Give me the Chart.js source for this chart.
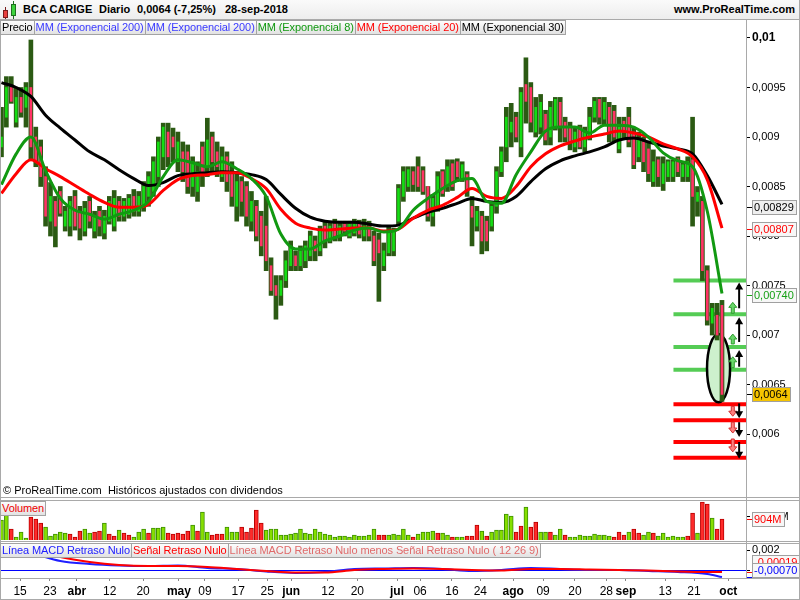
<!DOCTYPE html>
<html>
<head>
<meta charset="utf-8">
<title>BCA CARIGE Diario</title>
<script src="https://cdn.jsdelivr.net/npm/chart.js@4.4.1/dist/chart.umd.min.js"></script>
<style>
  body { margin: 0; background: #fff; }
  #page { position: relative; width: 800px; height: 600px; overflow: hidden; background: #fff;
          font-family: "Liberation Sans", Arial, sans-serif; color: #000; }
  canvas { position: absolute; left: 0; }
  .ln { position: absolute; background: #a9a9a9; }
  .hdr { position: absolute; left: 0; top: 0; width: 800px; height: 19px; background: linear-gradient(#fafafa, #ededed); }
  .ttl { position: absolute; top: 3px; font-size: 11px; font-weight: bold; white-space: nowrap; }
  .tags { position: absolute; left: 0; display: flex; }
  .tag { height: 13px; line-height: 13px; font-size: 11px; padding: 0 1px; border: 1px solid #a3a3a3;
         margin-right: -1px; background: linear-gradient(#fdfdfd, #e2e2e2); white-space: nowrap; letter-spacing: -0.1px; }
  .note { position: absolute; left: 3px; top: 484px; font-size: 11px; white-space: nowrap; }
  .ic { position: absolute; }
</style>
</head>
<body>
<div id="page">
  <div class="hdr"></div>
  <div class="ic" style="left:5px;top:7px;width:1px;height:13px;background:#7a1d1d"></div>
  <div class="ic" style="left:3px;top:10px;width:3px;height:6px;background:#e8403f;border:1px solid #7a1d1d"></div>
  <div class="ic" style="left:13px;top:1px;width:1px;height:18px;background:#1e6e1e"></div>
  <div class="ic" style="left:11px;top:4px;width:3px;height:10px;background:#3cd23c;border:1px solid #1e6e1e"></div>
  <div class="ttl" style="left:23px">BCA CARIGE</div>
  <div class="ttl" style="left:99px">Diario</div>
  <div class="ttl" style="left:137px">0,0064 (-7,25%)</div>
  <div class="ttl" style="left:225px">28-sep-2018</div>
  <div class="ttl" style="right:5px">www.ProRealTime.com</div>

  <canvas id="mainChart" width="800" height="477" style="top:20px"></canvas>
  <canvas id="volChart" width="800" height="41" style="top:500px"></canvas>
  <canvas id="macdChart" width="800" height="56" style="top:543px"></canvas>

  <div class="ln" style="left:0;top:19px;width:800px;height:1px"></div>
  <div class="ln" style="left:0;top:497px;width:800px;height:1px"></div>
  <div class="ln" style="left:0;top:500px;width:800px;height:1px"></div>
  <div class="ln" style="left:0;top:541px;width:800px;height:1px"></div>
  <div class="ln" style="left:0;top:543px;width:800px;height:1px"></div>
  <div class="ln" style="left:0;top:578px;width:800px;height:1px"></div>
  <div class="ln" style="left:0;top:599px;width:800px;height:1px"></div>
  <div class="ln" style="left:0;top:19px;width:1px;height:581px"></div>
  <div class="ln" style="left:746px;top:19px;width:1px;height:560px"></div>
  <div class="ln" style="left:799px;top:0;width:1px;height:600px"></div>

  <div class="tags" style="top:20px">
    <div class="tag">Precio</div>
    <div class="tag" style="color:#3b3bff">MM (Exponencial 200)</div>
    <div class="tag" style="color:#3b3bff">MM (Exponencial 200)</div>
    <div class="tag" style="color:#119911">MM (Exponencial 8)</div>
    <div class="tag" style="color:#ff0000">MM (Exponencial 20)</div>
    <div class="tag">MM (Exponencial 30)</div>
  </div>
  <div class="note">&copy; ProRealTime.com&nbsp; Históricos ajustados con dividendos</div>
  <div class="tags" style="top:501px">
    <div class="tag" style="color:#ee0000">Volumen</div>
  </div>
  <div class="tags" style="top:543px">
    <div class="tag" style="color:#2020ff">Línea MACD Retraso Nulo</div>
    <div class="tag" style="color:#ff0000">Señal Retraso Nulo</div>
    <div class="tag" style="color:#e06a6a">Línea MACD Retraso Nulo menos Señal Retraso Nulo ( 12 26 9)</div>
  </div>
</div>

<script>
// === DATA ===
// prices in units of 0.0001 (so 64.0 = 0,0064)
const openP = [
  89.0, 92.0, 95.0, 91.5, 94.0, 93.0, 95.0, 90.0, 89.0, 86.0,
  81.5, 83.5, 84.5, 81.0, 81.0, 84.0, 82.5, 80.5, 83.5, 80.5,
  82.5, 80.3, 81.5, 81.0, 83.5, 82.0, 82.2, 84.0, 82.5, 83.0,
  84.0, 84.5, 86.0, 88.0, 90.5, 90.0, 87.5, 88.5, 88.5, 85.0,
  84.5, 89.0, 87.0, 90.0, 88.5, 86.0, 88.0, 86.5, 83.0, 85.5,
  85.0, 81.5, 83.0, 82.0, 81.0, 77.0, 75.0, 74.0, 75.5, 77.0,
  78.0, 77.0, 77.5, 78.0, 79.5, 78.5, 81.0, 79.5, 81.2, 80.0,
  81.2, 80.0, 80.3, 81.3, 80.0, 81.0, 80.0, 79.6, 77.0, 78.3,
  78.5, 81.5, 84.0, 85.0, 86.5, 87.0, 86.6, 85.0, 82.0, 83.0,
  86.5, 85.0, 87.3, 87.5, 85.8, 86.2, 83.0, 81.0, 82.0, 81.5,
  81.0, 83.0, 86.5, 89.0, 90.5, 92.0, 89.0, 95.3, 95.0, 90.5,
  91.0, 92.3, 90.0, 91.0, 93.5, 91.5, 91.0, 89.0, 91.0, 89.0,
  90.0, 92.0, 93.8, 91.8, 93.0, 92.6, 88.8, 91.6, 92.0, 90.5,
  88.0, 89.5, 88.8, 85.5, 87.7, 85.3, 86.0, 86.0, 87.8, 86.0,
  86.0, 87.7, 83.5, 83.5, 76.5, 71.2, 72.0, 73.0
];
const highP = [
  93.0, 96.1, 96.1, 95.0, 95.0, 95.5, 99.8, 91.0, 89.7, 87.0,
  85.4, 84.0, 85.0, 83.0, 84.0, 84.6, 83.0, 83.5, 84.0, 82.5,
  83.0, 82.6, 84.0, 84.6, 84.0, 83.8, 84.2, 84.7, 84.5, 85.5,
  86.5, 88.0, 90.0, 91.4, 91.4, 90.9, 90.5, 89.5, 89.2, 88.0,
  87.5, 89.5, 91.9, 90.5, 89.5, 89.0, 88.5, 87.5, 86.5, 86.0,
  85.5, 84.5, 83.6, 82.5, 84.0, 77.8, 76.0, 76.0, 78.5, 79.5,
  78.5, 79.0, 79.5, 80.5, 80.0, 81.0, 81.5, 81.5, 81.7, 81.5,
  81.5, 81.5, 81.7, 81.6, 81.7, 81.5, 80.5, 80.3, 79.3, 81.0,
  80.8, 85.2, 87.0, 87.0, 87.0, 88.0, 87.0, 85.0, 84.2, 86.5,
  86.7, 87.7, 87.7, 87.8, 87.5, 86.5, 84.0, 83.0, 82.5, 82.0,
  83.5, 87.0, 89.0, 93.0, 93.4, 92.5, 95.0, 98.0, 95.5, 94.0,
  94.3, 92.7, 93.6, 94.0, 94.0, 92.0, 91.5, 91.0, 91.2, 91.0,
  93.0, 94.0, 94.0, 94.0, 93.5, 93.2, 92.0, 92.0, 93.0, 91.0,
  90.5, 90.0, 89.5, 88.7, 88.0, 88.0, 87.7, 87.7, 88.0, 87.5,
  88.0, 92.0, 85.0, 84.0, 77.0, 73.2, 73.2, 73.5
];
const lowP = [
  88.0, 91.0, 93.4, 91.0, 92.0, 91.0, 87.7, 87.0, 85.0, 81.0,
  80.0, 78.9, 82.0, 80.5, 80.0, 80.6, 79.6, 80.0, 80.8, 79.8,
  80.0, 79.7, 81.2, 80.5, 81.5, 81.5, 81.8, 82.0, 82.0, 82.5,
  83.0, 84.0, 85.0, 86.7, 87.0, 87.5, 86.5, 85.5, 84.3, 84.0,
  83.5, 85.0, 86.0, 86.5, 86.0, 85.5, 84.5, 83.0, 81.5, 82.0,
  81.0, 80.5, 79.5, 78.0, 76.5, 74.0, 71.6, 73.0, 74.8, 76.5,
  76.5, 76.5, 76.8, 77.5, 77.5, 78.0, 78.8, 79.3, 79.5, 79.5,
  80.0, 79.8, 80.0, 79.8, 79.5, 79.5, 77.0, 73.4, 76.5, 78.0,
  78.0, 81.1, 83.5, 84.5, 84.5, 84.5, 84.2, 81.5, 81.0, 82.5,
  84.0, 84.5, 84.6, 85.5, 85.5, 84.0, 79.0, 80.5, 78.2, 78.5,
  80.5, 82.3, 86.0, 87.5, 89.0, 89.5, 88.0, 91.4, 90.5, 90.0,
  90.3, 89.2, 89.2, 90.7, 89.5, 89.5, 88.7, 88.5, 88.8, 88.5,
  89.7, 91.5, 91.3, 91.2, 89.5, 89.5, 88.4, 89.8, 89.0, 86.8,
  87.5, 86.5, 85.5, 85.0, 85.0, 84.6, 85.5, 85.5, 86.0, 85.5,
  85.5, 81.0, 82.0, 75.5, 71.0, 70.0, 69.5, 63.3
];
const closeP = [
  90.0, 95.0, 93.6, 94.0, 92.5, 95.0, 89.0, 87.5, 86.0, 82.0,
  84.0, 81.0, 82.3, 82.5, 83.5, 81.0, 80.8, 82.8, 81.5, 82.0,
  81.0, 82.0, 83.5, 83.8, 82.0, 83.5, 83.8, 82.5, 84.0, 85.0,
  86.0, 87.5, 89.5, 91.0, 88.0, 89.0, 89.5, 86.5, 85.0, 87.5,
  86.5, 86.5, 89.7, 87.5, 87.0, 88.0, 85.5, 84.0, 85.5, 83.5,
  82.0, 83.5, 80.0, 79.0, 77.5, 74.5, 74.0, 75.5, 77.5, 79.0,
  77.0, 78.5, 79.0, 80.0, 78.5, 80.5, 79.5, 81.0, 80.0, 81.0,
  80.5, 81.2, 81.2, 80.2, 81.0, 80.0, 77.5, 78.3, 78.5, 80.5,
  80.5, 84.8, 86.5, 86.7, 85.2, 85.0, 84.5, 82.0, 83.8, 86.0,
  84.3, 87.0, 85.0, 86.0, 87.2, 84.6, 81.9, 82.5, 79.5, 79.5,
  83.0, 86.5, 88.5, 92.0, 91.5, 90.0, 94.5, 93.6, 91.5, 93.0,
  93.5, 89.7, 93.0, 93.8, 91.0, 90.0, 89.5, 90.5, 89.0, 90.6,
  92.0, 93.6, 92.0, 93.5, 90.5, 90.0, 91.0, 90.5, 89.5, 87.2,
  89.8, 87.5, 86.3, 87.5, 86.0, 87.3, 87.5, 87.5, 86.5, 87.2,
  87.5, 84.0, 84.4, 76.5, 71.5, 72.7, 70.0, 64.0
];

// volume in millions, and g/r colour of each volume bar
const volumeM = [
  860, 1075, 473, 129, 344, 86, 989, 903, 731, 559,
  172, 258, 344, 301, 258, 129, 387, 473, 301, 344,
  387, 731, 258, 172, 430, 301, 215, 129, 344, 473,
  301, 516, 516, 559, 301, 258, 301, 258, 387, 645,
  387, 1204, 344, 215, 258, 258, 559, 344, 344, 559,
  344, 516, 1290, 731, 430, 473, 473, 215, 215, 258,
  301, 473, 301, 258, 473, 344, 258, 215, 129, 172,
  172, 129, 215, 172, 172, 215, 473, 215, 215, 215,
  258, 215, 473, 215, 129, 258, 344, 344, 387, 301,
  301, 215, 129, 129, 129, 172, 172, 645, 387, 172,
  344, 430, 430, 1118, 1032, 344, 602, 1419, 559, 774,
  344, 344, 344, 215, 473, 215, 129, 129, 215, 172,
  172, 258, 215, 215, 172, 129, 344, 215, 344, 473,
  301, 215, 344, 301, 172, 301, 129, 172, 129, 129,
  172, 1161, 301, 1634, 1548, 946, 473, 904
];
const volumeUp = [
  "ggrgggrrrg", "ggggrrrggr", "rgrrgrrggg", "rgggrrrrrg", "rggrrrgggr",
  "rrrrgggg", "gggggggggg", "gggggggggr", "rggg",
  "ggrggggrgg", "rggrrrgrgg", "gggrrgrrgg", "rggrgggggg", "gggrrrgrrg",
  "grggggggrr", "grrgrr"
].join("");

// moving averages read every third bar
const emaIdx = [
  0, 3, 6, 9, 12, 15, 18, 21, 24, 27, 30, 33, 36, 39, 42, 45, 48, 51, 54, 57,
  60, 63, 66, 69, 72, 75, 78, 81, 84, 87, 90, 93, 96, 99, 102, 105, 108, 111, 114, 117,
  120, 123, 126, 129, 132, 135, 138, 141, 144, 147
];
const ema8 = [
  85.2, 88.3, 90.0, 86.6, 83.8, 82.6, 82.2, 81.7, 82.2, 82.6,
  83.5, 86.0, 87.7, 87.4, 87.0, 87.5, 86.8, 85.8, 84.0, 80.2,
  78.7, 78.7, 79.5, 80.0, 80.6, 80.8, 80.4, 80.7, 82.6, 83.8,
  84.8, 85.6, 85.8, 83.5, 83.3, 86.2, 88.5, 90.6, 91.0, 91.0,
  90.4, 91.2, 91.2, 91.0, 90.0, 88.4, 87.6, 87.0, 82.5, 74.2
];
const ema20 = [
  84.3, 86.3, 87.7, 86.8, 86.0, 85.1, 84.2, 83.4, 82.9, 82.9,
  83.2, 84.6, 85.7, 86.1, 86.2, 86.4, 86.4, 85.8, 84.8, 82.7,
  81.3, 80.8, 80.6, 80.7, 80.8, 80.8, 80.5, 80.7, 81.8, 82.6,
  83.1, 83.9, 84.8, 84.0, 83.8, 85.0, 87.0, 88.3, 89.1, 89.6,
  90.0, 90.3, 90.6, 90.4, 90.0, 89.3, 88.8, 88.0, 85.7, 80.8
];
const ema30 = [
  95.5, 95.0, 94.1, 92.2, 90.9, 89.7, 88.5, 87.7, 86.7, 85.8,
  85.1, 85.4, 86.1, 86.3, 86.4, 86.5, 86.4, 86.2, 85.7, 84.2,
  82.8, 81.9, 81.5, 81.4, 81.4, 81.2, 81.0, 81.1, 81.8, 82.4,
  82.8, 83.3, 83.8, 83.5, 83.4, 84.0, 85.5, 86.8, 87.6, 88.1,
  88.5, 89.0, 89.7, 89.9, 89.5, 89.1, 88.8, 88.3, 86.1, 83.2
];

// MACD (12 26 9) read every sixth bar
const macdIdx = [0, 6, 12, 18, 24, 30, 36, 42, 48, 54, 60, 66, 72, 78, 84, 90, 96, 102, 108, 114, 120, 126, 132, 138, 144, 147];
const macdLine = [0.0022, 0.0017, 0.0009, 0.0006, 0.00045, 0.0004, 0.00045, 0.0002, 0.0001, -0.00015, -0.0003, -0.0002, 0.0001,
  0.00015, 0.0002, 0.0001, -0.0001, 0.0, 0.0002, 0.0001, 0.0, 0.0, -0.0001, -0.0002, -0.0004, -0.0007];
const signalLine = [0.0024, 0.0021, 0.0013, 0.0008, 0.0005, 0.0004, 0.0004, 0.0003, 0.0001, -0.0001, -0.00025, -0.00025, 0.0,
  0.0001, 0.00015, 0.0001, 0.0, -0.00005, 0.0001, 0.0001, 0.00005, 0.0, -0.00005, -0.00015, -0.0002, -0.0002];

// date axis
const tickIdx = [3.8, 9.9, 15.4, 22.1, 28.9, 36.2, 41.5, 48.3, 54.2, 59.1, 66.6, 72.6,
  80.7, 85.4, 91.9, 97.7, 104.4, 110.5, 117.0, 123.4, 127.4, 135.4, 141.3, 148.3];
const tickLabels = ["15", "23", "abr", "12", "20", "may", "09", "17", "25", "jun", "12", "20",
  "jul", "06", "16", "24", "ago", "09", "20", "28", "sep", "13", "21", "oct"];
const monthLabels = ["abr", "may", "jun", "jul", "ago", "sep", "oct"];
const priceTicks = [60, 65, 70, 75, 80, 85, 90, 95, 100];

// drawn levels, arrows and ellipse (prices in 0.0001)
const levelFrom = 137.1;
const greenLevels = [75.5, 72.1, 68.8, 66.5];
const redLevels = [63.0, 61.4, 59.2, 57.6];
const blackUp = [[72.7, 75.3], [69.3, 71.8], [66.8, 68.5]];
const blackDown = [[63.1, 61.6], [61.2, 59.7], [59.2, 57.5]];
const greenUp = [[72.2, 73.3], [69.1, 70.1], [66.7, 67.8]];
const redDown = [[62.8, 61.8], [61.2, 60.1], [59.5, 58.2]];
const ellipse = { x: 146.3, halfWidth: 2.35, top: 70.1, bottom: 63.2 };

// value tags on the right axis
const mainTags = [
  { value: 82.9, text: "0,00829", color: "#000000", bg: "#efefef" },
  { value: 80.7, text: "0,00807", color: "#ff0000", bg: "#f7f7f7" },
  { value: 74.0, text: "0,00740", color: "#16a016", bg: "#f7f7f7" },
  { value: 64.0, text: "0,0064", color: "#000000", bg: "#f5c400" }
];
const volTags = [{ value: 904, text: "904M", color: "#ff0000", bg: "#f7f7f7" }];
const macdTags = [
  { value: -0.00019, text: "-0,00019", color: "#ff0000", bg: "#f7f7f7", dy: -10 },
  { value: -0.0007, text: "-0,00070", color: "#0000ff", bg: "#f7f7f7", dy: -7 }
];

// === SETUP ===
const FONT = '"Liberation Sans", Arial, sans-serif';
const X_MIN = -0.3, X_MAX = 151.9;
Chart.defaults.font.family = FONT;
Chart.defaults.font.size = 11;
Chart.defaults.color = "#000";

function fixY(scale) {
  scale.width = 54;
  scale.paddingTop = 0;
  scale.paddingBottom = 0;
}

function hiddenX() {
  return { type: "linear", min: X_MIN, max: X_MAX, offset: false, display: false, grid: { offset: false } };
}

function rightY(min, max, ticks, label, extra) {
  return Object.assign({
    type: "linear", position: "right", min, max, beginAtZero: false,
    afterFit: fixY,
    afterBuildTicks: s => { s.ticks = ticks.map(v => ({ value: v })); },
    grid: { drawOnChartArea: false, drawTicks: true, tickLength: 4, tickColor: "#000" },
    border: { display: true, color: "#a9a9a9" },
    ticks: { padding: 2, autoSkip: false, color: "#000", callback: label }
  }, extra || {});
}

function tagsPlugin(id, tags) {
  return {
    id,
    afterDraw(chart) {
      const { ctx, chartArea } = chart;
      const y = chart.scales.y;
      tags.forEach(t => {
        const yv = Math.round(y.getPixelForValue(t.value));
        const yl = yv + (t.dy || 0);
        ctx.save();
        ctx.font = "11px " + FONT;
        const w = Math.ceil(ctx.measureText(t.text).width) + 5;
        const x0 = chartArea.right + 6;
        ctx.strokeStyle = t.color;
        ctx.lineWidth = 1;
        ctx.beginPath();
        ctx.moveTo(chartArea.right + 1, yv + 0.5);
        ctx.lineTo(x0, yv + 0.5);
        ctx.stroke();
        ctx.fillStyle = t.bg;
        ctx.fillRect(x0, yl - 7, w, 15);
        ctx.strokeStyle = "#a0a0a0";
        ctx.strokeRect(x0 + 0.5, yl - 6.5, w - 1, 14);
        ctx.fillStyle = t.color;
        ctx.textBaseline = "middle";
        ctx.fillText(t.text, x0 + 2, yl + 1);
        ctx.restore();
      });
    }
  };
}

function lineArrow(ctx, x, y1, y2) {
  const dir = y2 < y1 ? -1 : 1;
  ctx.strokeStyle = "#000";
  ctx.fillStyle = "#000";
  ctx.lineWidth = 2;
  ctx.beginPath();
  ctx.moveTo(x, y1);
  ctx.lineTo(x, y2 - dir * 5);
  ctx.stroke();
  ctx.beginPath();
  ctx.moveTo(x, y2);
  ctx.lineTo(x - 4, y2 - dir * 7);
  ctx.lineTo(x + 4, y2 - dir * 7);
  ctx.closePath();
  ctx.fill();
}

function blockArrow(ctx, x, y1, y2, fill, stroke) {
  const dir = y2 < y1 ? -1 : 1;
  const hy = y2 - dir * 5;
  ctx.beginPath();
  ctx.moveTo(x, y2);
  ctx.lineTo(x + 4, hy);
  ctx.lineTo(x + 1.5, hy);
  ctx.lineTo(x + 1.5, y1);
  ctx.lineTo(x - 1.5, y1);
  ctx.lineTo(x - 1.5, hy);
  ctx.lineTo(x - 4, hy);
  ctx.closePath();
  ctx.fillStyle = fill;
  ctx.fill();
  ctx.strokeStyle = stroke;
  ctx.lineWidth = 1;
  ctx.stroke();
}

const annotations = {
  id: "annotations",
  beforeDatasetDraw(chart, args) {
    if (args.index !== 0) return;
    const { ctx, scales: { x, y } } = chart;
    const cx = x.getPixelForValue(ellipse.x);
    const rx = x.getPixelForValue(ellipse.x + ellipse.halfWidth) - cx;
    const top = y.getPixelForValue(ellipse.top);
    const bottom = y.getPixelForValue(ellipse.bottom);
    ctx.save();
    ctx.beginPath();
    ctx.ellipse(cx, (top + bottom) / 2, rx, (bottom - top) / 2, 0, 0, Math.PI * 2);
    ctx.fillStyle = "#cdf0cd";
    ctx.fill();
    ctx.lineWidth = 2.5;
    ctx.strokeStyle = "#000";
    ctx.stroke();
    ctx.restore();
  },
  afterDatasetsDraw(chart) {
    const { ctx, scales: { x, y } } = chart;
    const xa = x.getPixelForValue(150.5);
    const xs = x.getPixelForValue(149.2);
    ctx.save();
    greenUp.forEach(a => blockArrow(ctx, xs, y.getPixelForValue(a[0]), y.getPixelForValue(a[1]), "#6ad86a", "#2f9a2f"));
    redDown.forEach(a => blockArrow(ctx, xs, y.getPixelForValue(a[0]), y.getPixelForValue(a[1]), "#ff8080", "#d03030"));
    blackUp.concat(blackDown).forEach(a => lineArrow(ctx, xa, y.getPixelForValue(a[0]), y.getPixelForValue(a[1])));
    ctx.restore();
  }
};

// === MAIN PRICE CHART ===
const bodyColors = openP.map((o, i) => closeP[i] >= o ? "#14dd14" : "#ff3366");
const levelSets = greenLevels.map(v => ({ v, c: "#55cc55" })).concat(redLevels.map(v => ({ v, c: "#ff0000" })))
  .map(l => ({
    type: "line", order: 5, data: [{ x: levelFrom, y: l.v }, { x: X_MAX, y: l.v }],
    borderColor: l.c, borderWidth: 4, pointRadius: 0, tension: 0
  }));

function emaSet(values, color, order) {
  return {
    type: "line", order, data: emaIdx.map((x, k) => ({ x, y: values[k] })),
    borderColor: color, borderWidth: 3, pointRadius: 0, tension: 0.4, cubicInterpolationMode: "monotone"
  };
}

new Chart(document.getElementById("mainChart"), {
  type: "bar",
  data: {
    datasets: [
      { type: "bar", order: 4, grouped: false, barThickness: 4, backgroundColor: "#2b5a13",
        data: lowP.map((l, i) => ({ x: i, y: [l, highP[i]] })) },
      { type: "bar", order: 3, grouped: false, barThickness: 2, backgroundColor: bodyColors,
        data: openP.map((o, i) => ({ x: i, y: [o, closeP[i]] })) },
      emaSet(ema8, "#119911", 0),
      emaSet(ema20, "#ff0000", 1),
      emaSet(ema30, "#000000", 2),
      ...levelSets
    ]
  },
  options: {
    responsive: false, animation: false, devicePixelRatio: 1, events: [],
    layout: { padding: 0 },
    plugins: { legend: { display: false }, tooltip: { enabled: false } },
    scales: {
      x: hiddenX(),
      y: rightY(53.641, 101.818, priceTicks, v => String(v / 10000).replace(".", ","), {
        ticks: {
          padding: 2, autoSkip: false, color: "#000",
          callback: v => String(v / 10000).replace(".", ","),
          font: c => (c.tick && c.tick.value === 100) ? { family: FONT, size: 12, weight: "bold" } : { family: FONT, size: 11 }
        }
      })
    }
  },
  plugins: [annotations, tagsPlugin("mainTags", mainTags)]
});

// === VOLUME ===
new Chart(document.getElementById("volChart"), {
  type: "bar",
  data: {
    datasets: [{
      data: volumeM.map((v, i) => ({ x: i, y: v })),
      barThickness: 4,
      backgroundColor: volumeM.map((v, i) => volumeUp[i] === "g" ? "#86df00" : "#ff2a2a"),
      borderColor: volumeM.map((v, i) => volumeUp[i] === "g" ? "#3d9000" : "#b80000"),
      borderWidth: { left: 1, right: 1, top: 1, bottom: 0 },
      borderSkipped: false
    }]
  },
  options: {
    responsive: false, animation: false, devicePixelRatio: 1, events: [],
    plugins: { legend: { display: false }, tooltip: { enabled: false } },
    scales: {
      x: hiddenX(),
      y: rightY(-43, 1720, [1000], () => "1000M", {
        ticks: { padding: 5, autoSkip: false, color: "#000", callback: () => "1000M" }
      })
    }
  },
  plugins: [tagsPlugin("volTags", volTags)]
});

// === MACD ===
new Chart(document.getElementById("macdChart"), {
  type: "line",
  data: {
    datasets: [
      { data: macdIdx.map((x, k) => ({ x, y: signalLine[k] })), borderColor: "#ff0000", borderWidth: 2,
        pointRadius: 0, tension: 0.4, cubicInterpolationMode: "monotone" },
      { data: macdIdx.map((x, k) => ({ x, y: macdLine[k] })), borderColor: "#2020ff", borderWidth: 2,
        pointRadius: 0, tension: 0.4, cubicInterpolationMode: "monotone" }
    ]
  },
  options: {
    responsive: false, animation: false, devicePixelRatio: 1, events: [],
    plugins: { legend: { display: false }, tooltip: { enabled: false } },
    scales: {
      x: {
        type: "linear", min: X_MIN, max: X_MAX, offset: false, position: "bottom",
        afterBuildTicks: s => { s.ticks = tickIdx.map(v => ({ value: v })); },
        afterFit: s => { s.height = 21; s.paddingLeft = 0; s.paddingRight = 0; },
        grid: { drawOnChartArea: false, drawTicks: true, tickLength: 3, tickColor: "#888", offset: false },
        border: { display: false },
        ticks: {
          autoSkip: false, maxRotation: 0, padding: 3, color: "#000",
          callback: (v, i) => tickLabels[i],
          font: c => ({ family: FONT, size: 12, weight: monthLabels.includes(tickLabels[c.index]) ? "bold" : "normal" })
        }
      },
      y: rightY(-0.0008, 0.0027, [0, 0.002], v => v === 0 ? "" : "0,002", {
        grid: {
          drawOnChartArea: true, drawTicks: true, tickLength: 4, tickColor: "#000",
          color: c => (c.tick && c.tick.value === 0) ? "#0000ff" : "rgba(0,0,0,0)"
        }
      })
    }
  },
  plugins: [tagsPlugin("macdTags", macdTags)]
});
</script>
</body>
</html>
